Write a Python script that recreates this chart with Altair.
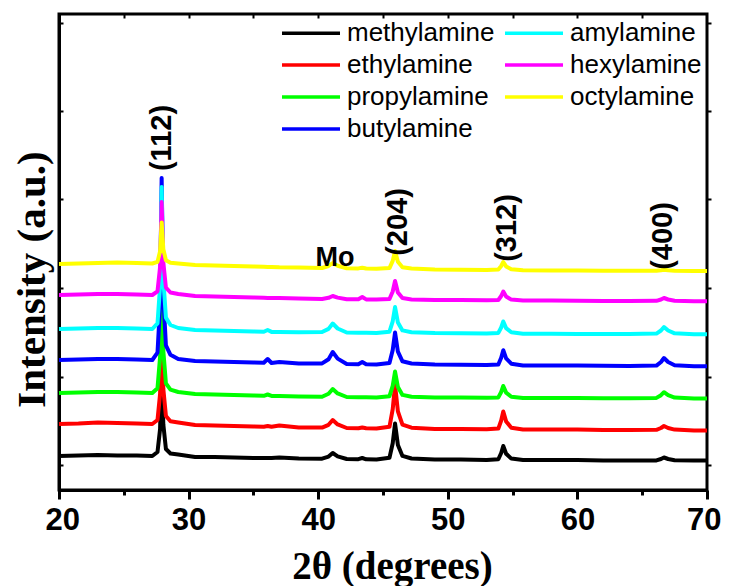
import altair as alt
import pandas as pd

# ---------------- data ----------------
two_theta = [20, 21.5, 23, 24.5, 26, 27.2, 27.6, 27.8, 27.92, 28.05, 28.25, 28.6, 29.2,
             30.5, 32, 33.5, 35, 35.8, 36.1, 36.4, 37, 38.5, 40.3, 40.8, 41.12, 41.5, 42.2,
             43.1, 43.4, 43.7, 44.5,
             45.5, 45.75, 45.93, 46.15, 46.5, 47.2, 49, 51, 53, 53.9, 54.12, 54.28,
             54.5, 54.9, 55.8, 58, 60, 62, 64, 66.1, 66.45, 66.68, 67.0, 67.5, 69, 70]

methylamine = [34, 34.5, 35, 34.5, 34.5, 34, 38, 61, 124, 65.5, 41, 36.5, 35.5,
               33, 33, 32.5, 32, 32, 32, 32, 32.5, 31.5, 31.3, 33.4, 37, 33.7, 31,
               30.8, 32, 30.7, 30.5,
               32.3, 46.7, 66.5, 44.9, 34.1, 31.5, 30.5, 30.5, 30, 30.7, 37, 44,
               36.3, 31.4, 30, 30, 30, 29.5, 29.5, 29.6, 31, 32.5, 31, 29.8, 29.5, 29.5]
ethylamine = [66, 66.5, 67.5, 67, 66.5, 66, 70, 96, 166, 101, 74, 68.7, 67.5,
              65, 64.5, 64, 63.5, 63.3, 64, 63.2, 64.5, 62.5, 62.4, 65.2, 70, 65.6, 62,
              61.8, 62.5, 61.7, 61.5,
              63.2, 80.8, 105, 78.6, 65.4, 62.3, 61, 61, 60.7, 61.4, 69.5, 78.5,
              68.6, 62.3, 60.5, 60.5, 60.5, 60, 60, 60.2, 62, 64, 62, 60.4, 59.5, 59.5]
propylamine = [97, 97.5, 98, 98, 97.5, 97, 101.8, 133, 217, 139, 106.6, 100.3, 98,
               96, 95.5, 95, 94.5, 94.2, 95.5, 94.1, 94, 93.5, 93.2, 96.2, 101, 96.6, 93,
               92.8, 92.8, 92.7, 92.5,
               93.8, 104.2, 118.5, 102.9, 95.1, 93.3, 92.5, 92.5, 92.3, 92.6, 98, 104,
               97.4, 93.2, 92, 92, 92, 91.8, 91.8, 92.1, 94.8, 97.8, 94.8, 92.4, 91.5, 91.5]
butylamine = [130, 130.5, 131, 131, 130.5, 130, 137.3, 184.6, 312, 193.7, 144.6, 135.2, 131,
              129, 128.5, 128, 127.5, 127.2, 131, 127, 128, 126.5, 126.6, 130.8, 138, 131.4, 126,
              125.8, 128, 125.7, 125.5,
              127.1, 139.9, 157.5, 138.3, 128.7, 126.5, 125.5, 125.3, 125, 125.5, 132.3, 139.8,
              131.6, 126.3, 124.5, 124.5, 124.5, 124.2, 124, 124.4, 128, 132, 128, 124.8, 123.8, 123.8]
amylamine = [161, 161.5, 162, 162, 161.5, 161, 166.7, 203.6, 303, 210.7, 172.4, 165, 162,
             160, 159.5, 159, 158.5, 158.2, 160, 158.1, 158, 157.8, 158, 161.1, 166.5, 161.5, 157.5,
             157.3, 157.3, 157.2, 157,
             158.3, 168.7, 183, 167.4, 159.6, 157.8, 157, 156.8, 156.5, 157.1, 162.5, 168.5,
             161.9, 157.7, 156.3, 156.2, 156, 156, 156, 156.4, 159.5, 163, 159.5, 156.7, 155.8, 155.8]
hexylamine = [195, 195.5, 196, 196, 195.5, 195, 198.7, 223, 288, 227.5, 202.4, 197.5, 196,
              194, 193.5, 193, 192.5, 192.2, 192, 192.1, 192, 191.5, 191, 192.2, 194, 192.4, 190.8,
              190.7, 193, 190.6, 190.5,
              191, 198.5, 209, 197.6, 191.9, 190.6, 190, 190, 189.7, 190, 194, 198.5,
              193.5, 190.4, 189.5, 189.5, 189.3, 189, 189, 189.2, 190.5, 192, 190.5, 189.3, 188.8, 188.8]
octylamine = [226, 226.5, 227, 227.5, 227, 226.5, 228.1, 238.8, 267.5, 240.9, 229.8, 227.2, 226.5,
              225, 224.5, 224, 223.5, 223.2, 223, 223.1, 222.8, 222.5, 222, 224, 227, 224.3, 221.8,
              221.6, 222.3, 221.5, 221.2,
              221.9, 229.1, 239, 228.2, 222.8, 221.5, 220.5, 220.3, 220, 220.4, 224, 228,
              223.6, 220.8, 219.8, 219.6, 219.5, 219.3, 219.2, 219.2, 219.7, 220.2, 219.7, 219.3, 219, 219]

series_names = ["methylamine", "ethylamine", "propylamine", "butylamine",
                "amylamine", "hexylamine", "octylamine"]
series_values = [methylamine, ethylamine, propylamine, butylamine,
                 amylamine, hexylamine, octylamine]
series_colors = ["#000000", "#ff0000", "#00ff00", "#0000ff", "#00ffff", "#ff00ff", "#ffff00"]

x_major_ticks = [20, 30, 40, 50, 60, 70]
x_minor_ticks = [25, 35, 45, 55, 65]
x_top_ticks = [25, 30, 35, 40, 45, 50, 55, 60, 65]
y_ticks = [25, 113.5, 202, 290.5, 379, 467.5]

peak_labels = ["(112)", "(204)", "(312)", "(400)"]
peak_label_x = [27.95, 46.16, 54.57, 66.6]
peak_label_y = [352, 268, 262, 254]
mo_label = ["Mo"]
mo_x = [41.3]
mo_y = [232]

x_domain = [20, 70]
y_domain = [0, 476]

# ---------------- tables ----------------
for vals in series_values:
    assert len(vals) == len(two_theta)

rows = []
for name, vals in zip(series_names, series_values):
    for xv, yv in zip(two_theta, vals):
        rows.append({"x": xv, "y": yv, "series": name})
df = pd.DataFrame(rows)

frame_df = pd.DataFrame({"x": x_domain, "y": y_domain})
peaks_df = pd.DataFrame({"label": peak_labels, "x": peak_label_x, "y": peak_label_y})
mo_df = pd.DataFrame({"label": mo_label, "x": mo_x, "y": mo_y})

x_scale = alt.Scale(domain=x_domain, nice=False, zero=False)
y_scale = alt.Scale(domain=y_domain, nice=False, zero=False)
color_scale = alt.Scale(domain=series_names, range=series_colors)

legend = alt.Legend(
    title=None, orient="none", legendX=221, legendY=2.5, columns=2,
    direction="vertical", symbolType="M-1,0H3", symbolSize=841, symbolStrokeWidth=3.5,
    labelFont="Liberation Sans", labelFontSize=26, labelColor="black", labelLimit=400,
    labelOffset=34, columnPadding=3, rowPadding=2, padding=0,
)

main_x_axis = alt.Axis(
    values=x_major_ticks, title="2θ (degrees)", labelFlush=True, labelFlushOffset=14,
    grid=False,
    tickSize=9, tickWidth=3, tickColor="black", domainWidth=3, domainColor="black",
    labelFont="Liberation Sans", labelFontWeight="bold", labelFontSize=31, labelColor="black",
    labelBaseline="top", labelPadding=6,
    titleFont="Liberation Serif", titleFontWeight="bold", titleFontSize=39, titleColor="black",
    titleX=333, titleY=88, titleBaseline="alphabetic", titleAlign="center",
)
main_y_axis = alt.Axis(
    orient="left", title="Intensity (a.u.)", labels=False, ticks=False, grid=False,
    domainWidth=3, domainColor="black",
    titleFont="Liberation Serif", titleFontWeight="bold", titleFontSize=41, titleColor="black",
    titleX=-15, titleY=265, titleAngle=270, titleBaseline="alphabetic", titleAlign="center",
)

layers = []
for i, name in enumerate(series_names):
    layers.append(
        alt.Chart(df).transform_filter(alt.datum.series == name)
        .mark_line(strokeWidth=4, strokeJoin="round")
        .encode(
            x=alt.X("x:Q", scale=x_scale, axis=main_x_axis if i == 0 else None),
            y=alt.Y("y:Q", scale=y_scale, axis=main_y_axis if i == 0 else None),
            color=alt.Color("series:N", scale=color_scale, legend=legend),
        )
    )

# minor bottom ticks (outward)
layers.append(
    alt.Chart(frame_df).mark_point(opacity=0).encode(
        x=alt.X("x:Q", scale=x_scale, axis=alt.Axis(
            orient="bottom", values=x_minor_ticks, labels=False, domain=False, grid=False,
            title=None, tickSize=5, tickWidth=3, tickColor="black")),
        y=alt.Y("y:Q", scale=y_scale, axis=None),
    )
)
# inside ticks on top and left edges
layers.append(
    alt.Chart(frame_df).mark_point(opacity=0).encode(
        x=alt.X("x:Q", scale=x_scale, axis=alt.Axis(
            orient="bottom", offset=-476, values=x_top_ticks, labels=False, domain=False,
            grid=False, title=None, tickSize=4, tickWidth=2, tickColor="black")),
        y=alt.Y("y:Q", scale=y_scale, axis=alt.Axis(
            orient="right", offset=-648, values=y_ticks, labels=False, domain=False,
            grid=False, title=None, tickSize=4, tickWidth=2, tickColor="black")),
    )
)
# outward ticks on right edge
layers.append(
    alt.Chart(frame_df).mark_point(opacity=0).encode(
        x=alt.X("x:Q", scale=x_scale, axis=None),
        y=alt.Y("y:Q", scale=y_scale, axis=alt.Axis(
            orient="right", values=y_ticks, labels=False, domain=False, grid=False,
            title=None, tickSize=4, tickWidth=2, tickColor="black")),
    )
)
# annotations
layers.append(
    alt.Chart(peaks_df).mark_text(
        angle=270, align="center", baseline="middle", font="Liberation Sans",
        fontWeight="bold", fontSize=29, color="black",
    ).encode(
        x=alt.X("x:Q", scale=x_scale, axis=None),
        y=alt.Y("y:Q", scale=y_scale, axis=None),
        text="label:N",
    )
)
layers.append(
    alt.Chart(mo_df).mark_text(
        align="center", baseline="middle", font="Liberation Sans",
        fontWeight="bold", fontSize=27, color="black",
    ).encode(
        x=alt.X("x:Q", scale=x_scale, axis=None),
        y=alt.Y("y:Q", scale=y_scale, axis=None),
        text="label:N",
    )
)

chart = (
    alt.layer(*layers)
    .resolve_axis(x="independent", y="independent")
    .properties(
        width=648, height=476,
        padding={"left": 51, "top": 6, "right": 14, "bottom": 96},
        autosize=alt.AutoSizeParams(type="none"),
        background="white",
    )
    .configure_view(stroke="black", strokeWidth=3)
)

chart.save("out.html", embed_options={"renderer": "svg", "actions": False})
